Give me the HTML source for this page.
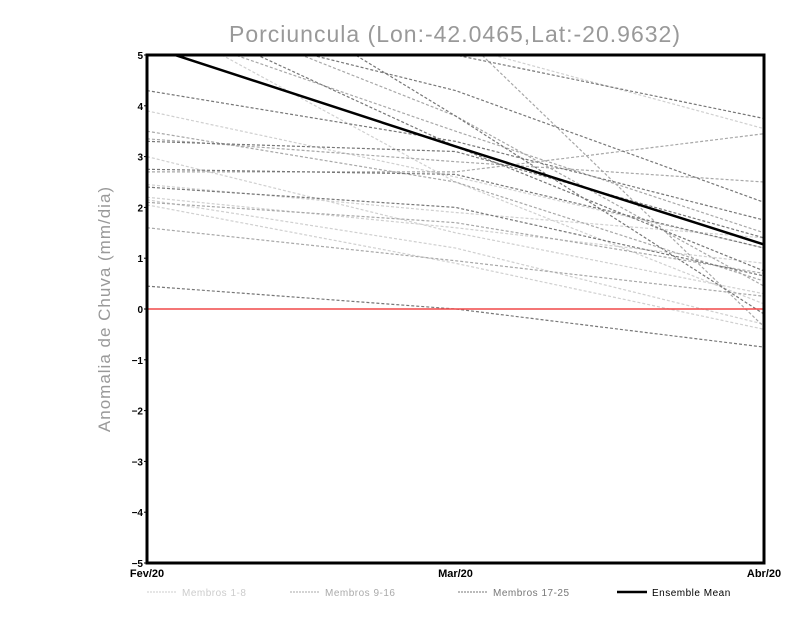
<!DOCTYPE html>
<html><head><meta charset="utf-8"><style>
body{margin:0;background:#fff;}
svg text{font-family:"Liberation Sans",sans-serif;}
</style></head><body>
<svg id="chart" width="800" height="618" xmlns="http://www.w3.org/2000/svg">
<defs><clipPath id="clip"><rect x="147" y="55" width="617" height="508"/></clipPath></defs>
<text x="455" y="42" text-anchor="middle" font-size="23" fill="#999" letter-spacing="1">Porciuncula (Lon:-42.0465,Lat:-20.9632)</text>
<text transform="translate(110,309) rotate(-90)" text-anchor="middle" font-size="17" fill="#999" letter-spacing="1">Anomalia de Chuva (mm/dia)</text>
<g id="series" clip-path="url(#clip)"></g>
<g id="axes"></g>
</svg>
<script>
const categories=["Fev/20","Mar/20","Abr/20"];
const yTicks=[-5,-4,-3,-2,-1,0,1,2,3,4,5];
const members1to8=[[3.9,2.6,1.2],[3.0,1.5,0.3],[2.45,1.9,1.4],[2.15,1.2,-0.3],[2.05,0.9,-0.4],[6.5,5.2,3.55],[5.8,2.5,0.1],[2.2,1.6,0.9]];
const members9to16=[[3.5,2.5,0.55],[3.35,2.9,2.5],[2.7,2.7,3.45],[2.1,1.7,0.7],[5.6,3.5,1.5],[6.2,3.8,0.45],[1.6,0.95,0.25],[7.0,5.5,-0.35]];
const members17to25=[[4.3,3.3,1.75],[3.3,3.1,1.4],[2.4,2.0,0.65],[0.45,0.0,-0.75],[5.8,4.3,2.1],[6.8,5.0,3.75],[7.5,3.8,-0.1],[6.0,3.2,0.75],[2.75,2.65,1.2]];
const ensembleMean=[5.18,3.2,1.27];
const X0=147,X1=764,Y0=563,Y1=55;
const xs=i=>X0+(X1-X0)*i/(categories.length-1);
const ys=v=>Y0-(v+5)/10*(Y0-Y1);
const NS="http://www.w3.org/2000/svg";
const g=document.getElementById('series'),ax=document.getElementById('axes');
function line(vals,color,w,dash,name){
  const p=document.createElementNS(NS,'polyline');
  p.setAttribute('points',vals.map((v,i)=>xs(i)+','+ys(v)).join(' '));
  p.setAttribute('fill','none');p.setAttribute('stroke',color);p.setAttribute('stroke-width',w);
  if(dash)p.setAttribute('stroke-dasharray',dash);
  
  
  g.appendChild(p);
}
members1to8.forEach((m,i)=>line(m,'#d0d0d0',1.2,'3,2','member-'+(i+1)));
members9to16.forEach((m,i)=>line(m,'#a8a8a8',1.2,'3,2','member-'+(i+9)));
members17to25.forEach((m,i)=>line(m,'#777',1.2,'3,2','member-'+(i+17)));
const z=document.createElementNS(NS,'line');
z.setAttribute('x1',X0);z.setAttribute('x2',X1);z.setAttribute('y1',ys(0));z.setAttribute('y2',ys(0));
z.setAttribute('stroke','#f04848');z.setAttribute('stroke-width',1.5);


g.appendChild(z);
line(ensembleMean,'#000',2.5,null,'ensemble-mean-line');
const fr=document.createElementNS(NS,'rect');
fr.setAttribute('x',X0);fr.setAttribute('y',Y1);fr.setAttribute('width',X1-X0);fr.setAttribute('height',Y0-Y1);
fr.setAttribute('fill','none');fr.setAttribute('stroke','#000');fr.setAttribute('stroke-width',3);


ax.appendChild(fr);
yTicks.forEach(v=>{
  const t=document.createElementNS(NS,'text');
  t.setAttribute('x',X0-4);t.setAttribute('y',ys(v)+4);t.setAttribute('text-anchor','end');
  t.setAttribute('font-size','10');t.setAttribute('font-weight','bold');
  t.textContent=(v<0?'\u2212'+(-v):v);
  
  
  ax.appendChild(t);
  const l=document.createElementNS(NS,'line');
  l.setAttribute('x1',X0-3);l.setAttribute('x2',X0);l.setAttribute('y1',ys(v));l.setAttribute('y2',ys(v));l.setAttribute('stroke','#000');
  
  
  ax.appendChild(l);
});
categories.forEach((c,i)=>{
  const t=document.createElementNS(NS,'text');
  t.setAttribute('x',xs(i));t.setAttribute('y',Y0+14);t.setAttribute('text-anchor','middle');
  t.setAttribute('font-size','11');t.setAttribute('font-weight','bold');
  t.textContent=c;
  
  
  ax.appendChild(t);
});
const leg=[["Membros 1-8","#ccc",1,'2,1',147],["Membros 9-16","#aaa",1,'2,1',290],["Membros 17-25","#777",1,'2,1',458],["Ensemble Mean","#000",2.5,null,617]];
leg.forEach(([lab,col,w,d,x])=>{
  const l=document.createElementNS(NS,'line');
  l.setAttribute('x1',x);l.setAttribute('x2',x+30);l.setAttribute('y1',592);l.setAttribute('y2',592);
  l.setAttribute('stroke',col);l.setAttribute('stroke-width',w);if(d)l.setAttribute('stroke-dasharray',d);
  
  
  ax.appendChild(l);
  const t=document.createElementNS(NS,'text');
  t.setAttribute('x',x+35);t.setAttribute('y',596);t.setAttribute('font-size','10');t.setAttribute('fill',col==='#000'?'#000':col);
  t.setAttribute('letter-spacing','0.5');
  t.textContent=lab;
  
  
  ax.appendChild(t);
});
</script>
</body></html>
